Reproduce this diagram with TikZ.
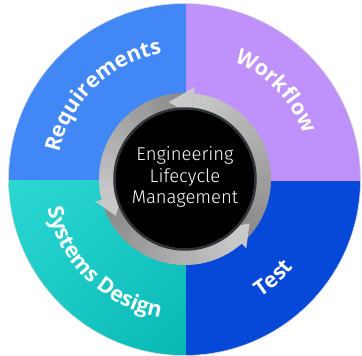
\documentclass[tikz,border=0pt]{standalone}
\usepackage{fontspec}
\IfFontExistsTF{Fira Sans Light}{\newfontfamily\centerfont{Fira Sans Light}}{\newfontfamily\centerfont{Fira Sans}}
\newfontfamily\labelfont{Open Sans}
\usetikzlibrary{decorations.text,shadings}
\definecolor{reqblue}{HTML}{4287F6}
\definecolor{wfpurple}{HTML}{BF91FA}
\definecolor{testblue}{HTML}{0649D9}
\definecolor{tealA}{HTML}{2CD8D4}
\definecolor{tealM}{HTML}{1BC9C5}
\definecolor{tealB}{HTML}{07B8B4}
\definecolor{darkrim}{HTML}{303438}
\newcommand\lblfont{\labelfont\bfseries\fontsize{21.5}{21.5}\selectfont}
\tikzset{
  centertext/.style={text=white, font=\centerfont\fontsize{18.5}{22}\selectfont, inner sep=0pt, anchor=base},
  curvelabel/.style={decorate, decoration={text along path, text={|\lblfont|#1}, text align=center, text color=white}}
}
\begin{document}
\begin{tikzpicture}[x=1pt,y=1pt]
\useasboundingbox (0,-356) rectangle (362,0);
\coordinate (C) at (184.5,-179.5);
\coordinate (Q) at (185.5,-180.7);
\begin{scope}
  \clip (C) circle[radius=176pt];
  \fill[reqblue] (0,0) rectangle (Q);
  \fill[wfpurple] (362,0) rectangle (Q);
  \fill[testblue] (362,-356) rectangle (Q);
  \shade[upper left=tealA, lower right=tealB, upper right=tealM, lower left=tealM] (0,-356) rectangle (Q);
\end{scope}
\draw[black!15, line width=0.6pt] (C) circle[radius=176pt];
% ring of arrows
\begin{scope}[shift={(185,-179)}]
  \foreach \s/\e in {-50/84, 84/194, 194/311.4} {
    \foreach \i in {0,...,29} {
      \pgfmathsetmacro\a{\s+(\e-\s)*\i/30}
      \pgfmathsetmacro\b{\s+(\e-\s)*(\i+1)/30+0.5}
      \pgfmathtruncatemacro\p{48-26*\i/29}
      \fill[black!\p] (\a:86) arc[start angle=\a, end angle=\b, radius=86pt] -- (\b:71) arc[start angle=\b, end angle=\a, radius=71pt] -- cycle;
    }
  }
  \foreach \hb/\ht in {84/102, 194/208, 311.4/325.5} {
    \fill[black!21] (\hb:92.5) -- (\ht:78.5) -- (\hb:64.5) -- cycle;
  }
  \fill[black] (0,0) circle[radius=71pt];
  \draw[darkrim, line width=2.5pt] (0,0) circle[radius=70.5pt];
\end{scope}
% centre text
\node[centertext] (t1) at (185,-160) {Engineering};
\node[centertext] (t2) at (185,-182) {Lifecycle};
\node[centertext] (t3) at (185,-203.5) {Management};
% curved labels
\path[curvelabel=Requirements] (C) ++(184:128) arc[start angle=184, end angle=84, radius=128pt];
\path[curvelabel=Workflow] (C) ++(94:128) arc[start angle=94, end angle=-6, radius=128pt];
\path[curvelabel=Systems Design] (C) ++(166:140) arc[start angle=166, end angle=286, radius=140pt];
\path[curvelabel=Test] (C) ++(-98:140) arc[start angle=-98, end angle=2, radius=140pt];
\end{tikzpicture}
\end{document}
